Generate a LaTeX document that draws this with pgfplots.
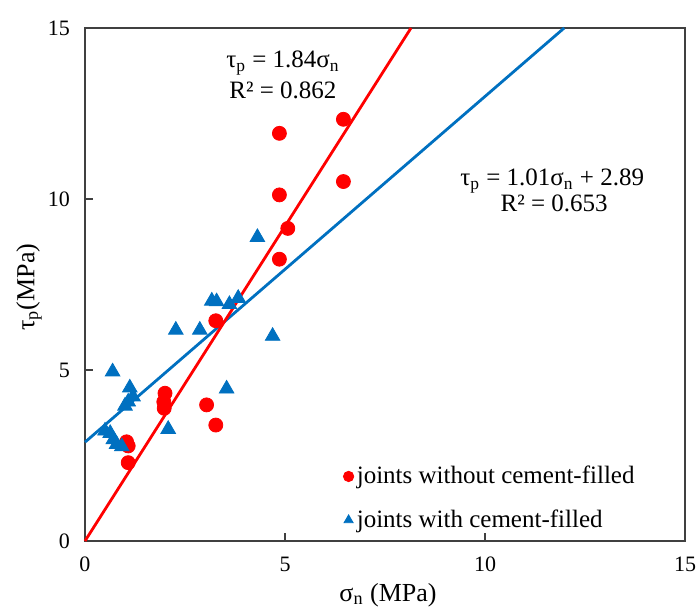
\documentclass[border=0pt]{standalone}
\usepackage{pgfplots}
\pgfplotsset{compat=1.18}
\usepackage{fontspec}
\setmainfont{Liberation Serif}
\definecolor{exred}{RGB}{255,0,0}
\definecolor{exblue}{RGB}{0,112,192}
\begin{document}
\begin{tikzpicture}
\useasboundingbox (-42.5pt,-33.5pt) rectangle (307pt,270.5pt);
\begin{axis}[
  at={(0pt,0pt)}, anchor=south west,
  scale only axis,
  width=300pt, height=256.5pt,
  xmin=0, xmax=15, ymin=0, ymax=15,
  xtick={0,5,10,15}, ytick={0,5,10,15},
  tick align=inside,
  xtick pos=bottom, ytick pos=left,
  major tick length=4pt,
  axis line style={line width=1pt, black!75},
  tick style={line width=0.7pt, black!75},
  /pgf/number format/assume math mode=true,
  ticklabel style={font=\fontsize{11}{13}\selectfont},
  xticklabel style={yshift=-4.5pt},
  yticklabel style={xshift=-4pt},
  xlabel={σ\textsubscript{n} (MPa)},
  ylabel={τ\textsubscript{p}(MPa)},
  label style={font=\fontsize{13}{15}\selectfont},
  xlabel style={at={(axis description cs:0.505,0)}, anchor=center, yshift=-27pt},
  ylabel style={at={(axis description cs:0,0.495)}, anchor=center, rotate=0, xshift=0pt, yshift=28pt},
  legend style={draw=none, fill=none, at={(axis cs:6.45,2.2)}, anchor=north west,
    font=\fontsize{12.5}{14}\selectfont, row sep=11.5pt, inner sep=0pt,
    nodes={inner xsep=1.5pt, inner ysep=0pt}},
  legend cell align=left,
  legend image code/.code={\draw[#1, mark size=2.6pt] plot coordinates {(0pt,0pt)};},
  clip=false,
]
% regression lines
\addplot[exblue, line width=1.4pt, forget plot] coordinates {(0,2.89) (11.98,15)};
\addplot[exred, line width=1.4pt, forget plot] coordinates {(0,0) (8.15,15)};
% red circles
\addplot[only marks, mark=*, mark size=3.5pt, color=exred] coordinates {
 (4.86,11.92) (6.46,12.33) (6.46,10.51) (4.86,10.12) (5.07,9.14) (4.86,8.24)
 (3.27,6.44) (2.00,4.32) (1.97,4.07) (1.98,3.88) (3.04,3.98) (3.27,3.39)
 (1.04,2.90) (1.08,2.78) (1.08,2.29)
};
\addlegendentry{joints without cement-filled}
% blue triangles
\addplot[only marks, mark=triangle*, mark size=4.2pt, color=exblue] coordinates {
 (0.69,4.95) (1.12,4.48) (1.20,4.22) (1.08,4.07) (1.00,3.95)
 (0.50,3.22) (0.63,3.15) (0.71,2.97) (0.79,2.83) (0.92,2.76)
 (2.08,3.27) (2.27,6.17) (2.87,6.17) (3.17,7.02) (3.29,7.00)
 (3.61,6.92) (3.83,7.10) (4.31,8.88) (4.69,5.99) (3.54,4.45)
};
\addlegendentry{joints with cement-filled}
% equations
\node[anchor=center, font=\fontsize{12.5}{14}\selectfont, inner sep=0pt] at (axis cs:4.95,13.98) {τ\textsubscript{p} = 1.84σ\textsubscript{n}};
\node[anchor=center, font=\fontsize{12.5}{14}\selectfont, inner sep=0pt] at (axis cs:4.95,13.19) {R² = 0.862};
\node[anchor=center, font=\fontsize{12.5}{14}\selectfont, inner sep=0pt] at (axis cs:11.68,10.53) {τ\textsubscript{p} = 1.01σ\textsubscript{n} + 2.89};
\node[anchor=center, font=\fontsize{12.5}{14}\selectfont, inner sep=0pt] at (axis cs:11.73,9.88) {R² = 0.653};
\end{axis}
\end{tikzpicture}
\end{document}
